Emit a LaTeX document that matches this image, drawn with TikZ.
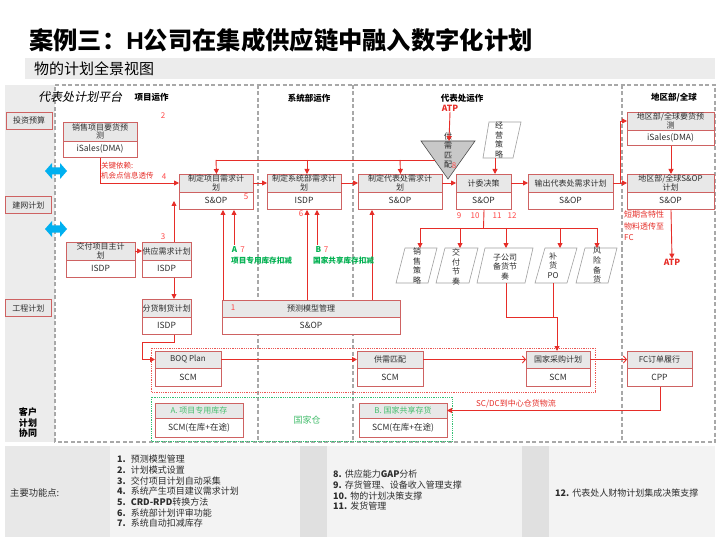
\documentclass[tikz,border=0pt]{standalone}
\usepackage{fontspec}
\setmainfont{Noto Sans CJK SC}
\newfontfamily\cjkit[FakeSlant=0.22]{Noto Sans CJK SC}
\newfontfamily\arialf{Liberation Sans}
\usetikzlibrary{arrows.meta,calc}
\definecolor{bred}{RGB}{206,98,98}
\definecolor{lred}{RGB}{230,45,40}
\definecolor{nred}{RGB}{255,72,72}
\definecolor{hgray}{RGB}{232,232,232}
\definecolor{dgray}{RGB}{168,168,168}
\definecolor{gr}{RGB}{0,176,80}
\definecolor{lgr}{RGB}{70,190,110}
\definecolor{cy}{RGB}{0,176,240}
\definecolor{colgray}{RGB}{236,236,236}
\definecolor{pangray}{RGB}{243,243,243}
\definecolor{labgray}{RGB}{232,232,232}
\definecolor{stripgray}{RGB}{224,224,224}
\definecolor{txt}{RGB}{45,45,45}
\definecolor{trig}{RGB}{200,200,200}
\newcommand\tbox[9]{%
  \fill[white] (#2,#3) rectangle (#4,#6);
  \fill[hgray] (#2,#3) rectangle (#4,#5);
  \draw[bred,line width=0.7pt] (#2,#5) -- (#4,#5);
  \node[draw=bred,line width=1pt,inner sep=0pt,minimum width={#4-#2},minimum height={#6-#3},anchor=north west] (#1) at (#2,#3) {};
  \coordinate (#1-hw) at (#2,{(#3+#5)/2});
  \coordinate (#1-he) at (#4,{(#3+#5)/2});
  \node[hdr,text=#9] at ({(#2+#4)/2},{(#3+#5)/2}) {#7};
  \node[bdy] at ({(#2+#4)/2},{(#5+#6)/2}) {#8};
}
\begin{document}
\begin{tikzpicture}[x=1pt,y=-1pt,
  hdr/.style={inner sep=0pt,align=center,font=\fontsize{8}{8.8}\selectfont},
  bdy/.style={inner sep=0pt,align=center,font=\fontsize{8.5}{9}\selectfont,text=txt},
  dsh/.style={draw=dgray,line width=1.2pt,dash pattern=on 4pt off 2.5pt},
  ln/.style={draw=lred,line width=0.9pt},
  arr/.style={draw=lred,line width=0.9pt,-{Triangle[length=5pt,width=5pt]}},
  oarr/.style={draw=lred,line width=0.9pt,-{Straight Barb[length=3pt,width=7pt]}},
  num/.style={inner sep=0pt,text=nred,font=\fontsize{8}{9}\selectfont},
  lbl/.style={draw=bred,line width=0.8pt,fill=hgray,minimum width=46,minimum height=17,inner sep=0pt,font=\fontsize{8}{9}\selectfont,text=txt},
  pgr/.style={draw=gray!75,line width=0.6pt,fill=white},
  vt/.style={inner sep=0pt,align=center,font=\fontsize{8}{9.6}\selectfont,text=txt},
  sec/.style={inner sep=0pt,font=\fontsize{8.5}{9}\selectfont\bfseries}]
\useasboundingbox (0,0) rectangle (720,540);
\fill[white] (0,0) rectangle (720,540);

% title
\node[anchor=west,inner sep=0pt,font=\fontsize{24.3}{26}\selectfont\bfseries] (title) at (29,40) {案例三：{\arialf\bfseries H}公司在集成供应链中融入数字化计划};
\fill[colgray] (25,58) rectangle (715,79);
\node[anchor=west,inner sep=0pt,font=\fontsize{15}{16}\selectfont] (sub) at (34,68.5) {物的计划全景视图};

% left column and frame
\fill[colgray] (5,85) rectangle (55,442);
\draw[dsh] (55,85) -- (715,85) -- (715,442) -- (55,442) -- cycle;
\draw[dsh] (258,85) -- (258,442);
\draw[dsh] (353,85) -- (353,442);
\draw[dsh] (622,85) -- (622,442);

\node[lbl] (inv) at (29,120.5) {投资预算};
\node[lbl] (net) at (28.5,205) {建网计划};
\node[lbl] (eng) at (28.5,308) {工程计划};
\node[inner sep=0pt,align=center,font=\fontsize{9}{10.5}\selectfont\bfseries] (cust) at (28,423) {客户\\计划\\协同};

% cyan double arrows
\fill[cy] (45,171) -- (52,163) -- (52,167.5) -- (60,167.5) -- (60,163) -- (67,171) -- (60,179) -- (60,174.5) -- (52,174.5) -- (52,179) -- cycle;
\fill[cy] (45,229) -- (52,221) -- (52,225.5) -- (60,225.5) -- (60,221) -- (67,229) -- (60,237) -- (60,232.5) -- (52,232.5) -- (52,237) -- cycle;

% section headers
\node[inner sep=0pt,font=\cjkit\fontsize{12}{12}\selectfont] (plat) at (80,97) {代表处计划平台};
\node[sec] (h1) at (151.5,97.5) {项目运作};
\node[sec] (h2) at (309,98) {系统部运作};
\node[sec] (h3) at (462,98) {代表处运作};
\node[sec] (h4) at (674,98) {地区部/全球};
\node[sec,text=lred] (atp1) at (450,108.5) {ATP};

% dotted group boxes
\draw[lred!80,line width=0.8pt,densely dotted] (151,348) rectangle (595,392);
\draw[gr!80,line width=0.8pt,densely dotted] (151,397) rectangle (452,441.5);
\node[inner sep=0pt,text=lgr,font=\fontsize{9}{10}\selectfont] (gjc) at (307,420) {国家仓};

% boxes
\tbox{sales}{63}{122}{137}{141}{157}{销售项目要货预\\测}{iSales(DMA)}{txt}
\tbox{pj}{179}{174}{253}{192}{209}{制定项目需求计\\划}{S\&OP}{txt}
\tbox{sys}{267}{174}{341}{192}{209}{制定系统部需求计\\划}{ISDP}{txt}
\tbox{rep}{358}{174}{442}{192}{209}{制定代表处需求计\\划}{S\&OP}{txt}
\tbox{jw}{456}{174}{511}{192}{209}{计委决策}{S\&OP}{txt}
\tbox{out}{528}{174}{613}{192}{209}{输出代表处需求计划}{S\&OP}{txt}
\tbox{rf}{627}{112}{714}{130}{145}{地区部/全球要货预\\测}{iSales(DMA)}{txt}
\tbox{rs}{627}{174}{714}{192}{209}{地区部/全球S\&OP\\计划}{S\&OP}{txt}
\tbox{jf}{66}{242}{135}{260}{277}{交付项目主计\\划}{ISDP}{txt}
\tbox{gx}{142}{242}{191}{260}{277}{供应需求计划}{ISDP}{txt}
\tbox{fh}{142}{299}{191}{317}{334}{分货制货计划}{ISDP}{txt}
\tbox{yc}{222}{300}{400}{317}{334}{预测模型管理}{S\&OP}{txt}
\tbox{boq}{155}{351}{221}{368}{386}{BOQ Plan}{SCM}{txt}
\tbox{gp}{357}{351}{423}{368}{386}{供需匹配}{SCM}{txt}
\tbox{cg}{526}{351}{590}{368}{386}{国家采购计划}{SCM}{txt}
\tbox{fc}{627}{351}{692}{368}{386}{FC订单履行}{CPP}{txt}
\tbox{ka}{155}{403}{243}{418}{437}{A. 项目专用库存}{SCM(在库+在途)}{lgr}
\tbox{kb}{359}{403}{447}{418}{437}{B. 国家共享存货}{SCM(在库+在途)}{lgr}

% triangle 供需匹配
\draw[fill=trig,draw=gray!60!black,line width=0.6pt] (421,141) -- (475,141) -- (448,179) -- cycle;
\node[vt,text=gray!30!black] (tri) at (448,150.5) {供\\需\\匹\\配};
\coordinate (triL) at (434.5,160);
\coordinate (triT) at (449,141);

% parallelograms
\draw[pgr] (489,122) -- (521,122) -- (513,158) -- (483,158) -- cycle;
\node[vt] (jy) at (499,140) {经\\营\\策\\略};
\draw[pgr] (405,248) -- (437,248) -- (428,283) -- (396,283) -- cycle;
\node[vt] (p1) at (417,266) {销\\售\\策\\略};
\draw[pgr] (445,248) -- (478,248) -- (469,283) -- (436,283) -- cycle;
\node[vt] (p2) at (456,267) {交\\付\\节\\奏};
\draw[pgr] (485,248) -- (533,248) -- (525,283) -- (477,283) -- cycle;
\node[vt] (p3) at (505,267) {子公司\\备货节\\奏};
\draw[pgr] (545,248) -- (577,248) -- (567,283) -- (535,283) -- cycle;
\node[vt] (p4) at (553,265.5) {补\\货\\PO};
\draw[pgr] (585,248) -- (617,248) -- (608,283) -- (576,283) -- cycle;
\node[vt] (p5) at (597,265.5) {风\\险\\备\\货};
\coordinate (p1t) at (420,248);
\coordinate (p2t) at (460,248);
\coordinate (p3t) at (506,248);
\coordinate (p4t) at (560,248);
\coordinate (p5t) at (597,248);
\coordinate (p3b) at (506,283);
\coordinate (p4b) at (553,283);
\coordinate (jyb) at (495,158);

% connectors top
\draw[arr] (atp1.south) -- (triT);
\draw[arr] (jyb) -- (jyb |- jw.north);
\draw[ln] (triL) -- (216,160);
\draw[arr] (216,160) -- (pj.north);
\draw[arr] (307,160) -- (307,174);
\draw[arr] (400,160) -- (rep.north);
\draw[arr] (sales.south) |- (pj-hw);
\draw[arr] (pj-he) -- (sys-hw);
\draw[arr] (sys-he) -- (rep-hw);
\draw[arr] (rep-he) -- (jw-hw);
\draw[arr] (jw-he) -- (out-hw);
\draw[arr] (out-he) -- (rs-hw);
\coordinate (brk) at (620,183);
\draw[arr] (brk) |- (rf-hw);
\draw[arr] (rf.south) -- (rs.north);
\node[sec,text=lred] (atp2) at (672,262) {ATP};
\draw[arr] (rs.south) -- (atp2.north);
\node[anchor=north west,inner sep=0pt,align=left,text=lred,font=\fontsize{8}{11.5}\selectfont] (dq) at (624,211) {短期含特性\\物料透传至\\FC};

% decision split
\coordinate (spl) at (483.5,228);
\draw[ln] (jw.south) -- (spl);
\draw[ln] (420,228) -- (597,228);
\draw[arr] (420,228) -- (p1t);
\draw[arr] (460,228) -- (p2t);
\draw[arr] (506,228) -- (p3t);
\draw[arr] (560,228) -- (p4t);
\draw[arr] (597,228) -- (p5t);
\coordinate (cgin) at (557,317);
\draw[ln] (p3b) |- (cgin);
\draw[ln] (p4b) -- (p4b |- cgin);
\draw[arr] (cgin) -- (cgin |- cg.north);

% left connectors
\coordinate (c1) at (223,300);
\draw[arr] (c1) -- (c1 |- pj.south);
\coordinate (c2) at (234,245);
\draw[arr] (c2) -- (c2 |- pj.south);
\coordinate (c3) at (307,300);
\draw[arr] (c3) -- (c3 |- sys.south);
\coordinate (c4) at (317,245);
\draw[arr] (c4) -- (c4 |- sys.south);
\coordinate (c5) at (372,300);
\draw[arr] (c5) -- (c5 |- rep.south);
\coordinate (c6) at (174,201);
\draw[arr] (c6 |- gx.north) -- (c6);
\draw[arr] (jf-he) -- (gx-hw);
\draw[arr] (c6 |- gx.south) -- (c6 |- fh.north);
\coordinate (c8) at (142,342);
\draw[arr] (c6 |- fh.south) |- (c8) |- (boq-hw);
\draw[arr] (boq-he) -- (gp-hw);
\draw[oarr] (gp-he) -- (cg-hw);
\draw[oarr] (cg-he) -- (fc-hw);
\draw[arr] (fc.south) |- (kb-he);
\node[inner sep=0pt,text=lred,font=\fontsize{8}{9}\selectfont] (scdc) at (516,404) {SC/DC到中心仓货物流};

% labels
\node[anchor=west,inner sep=0pt,align=left,text=lred,font=\fontsize{7.5}{10}\selectfont] (gjyl) at (101,171) {关键依赖:\\机会点信息透传};
\node[num] (n2) at (163,116) {2};
\node[num] (n4) at (164,177) {4};
\node[num] (n5) at (246,197) {5};
\node[num] (n3) at (163,237) {3};
\node[num] (n6) at (301,214) {6};
\node[num] (n1) at (233,308) {1};
\node[num] (n8) at (454,166) {8};
\node[num] (n9) at (459,216) {9};
\node[num] (n10) at (475,216) {10};
\node[num] (n11) at (497,216) {11};
\node[num] (n12) at (512,216) {12};
\node[inner sep=0pt,text=gr,font=\fontsize{8}{9}\selectfont\bfseries] (la) at (234.5,250) {A};
\node[num] (n7a) at (242.5,250) {7};
\node[anchor=west,inner sep=0pt,text=gr,font=\fontsize{7.6}{9}\selectfont\bfseries] (lat) at (231,260.5) {项目专用库存扣减};
\node[inner sep=0pt,text=gr,font=\fontsize{8}{9}\selectfont\bfseries] (lb) at (318.5,250) {B};
\node[num] (n7b) at (326,250) {7};
\node[anchor=west,inner sep=0pt,text=gr,font=\fontsize{7.6}{9}\selectfont\bfseries] (lbt) at (313,260.5) {国家共享库存扣减};

% bottom panel
\fill[labgray] (5,446) rectangle (110,537);
\fill[pangray] (110,446) rectangle (300,537);
\fill[stripgray] (300,446) rectangle (327,537);
\fill[pangray] (327,446) rectangle (522,537);
\fill[stripgray] (522,446) rectangle (549,537);
\fill[pangray] (549,446) rectangle (715,537);
\node[anchor=west,inner sep=0pt,text=txt,font=\fontsize{9.3}{10}\selectfont] (kf) at (10,493) {主要功能点:};
\node[anchor=north west,inner sep=0pt,align=left,text=txt,font=\fontsize{9}{10.7}\selectfont] (list1) at (117,455) {%
\textbf{1.}\hspace{5pt}预测模型管理\\
\textbf{2.}\hspace{5pt}计划模式设置\\
\textbf{3.}\hspace{5pt}交付项目计划自动采集\\
\textbf{4.}\hspace{5pt}系统产生项目建议需求计划\\
\textbf{5.}\hspace{5pt}\textbf{CRD-RPD}转换方法\\
\textbf{6.}\hspace{5pt}系统部计划评审功能\\
\textbf{7.}\hspace{5pt}系统自动扣减库存};
\node[anchor=north west,inner sep=0pt,align=left,text=txt,font=\fontsize{9}{10.7}\selectfont] (list2) at (333,470) {%
\textbf{8.}\hspace{3pt}供应能力\textbf{GAP}分析\\
\textbf{9.}\hspace{3pt}存货管理、设备收入管理支撑\\
\textbf{10.}\hspace{3pt}物的计划决策支撑\\
\textbf{11.}\hspace{3pt}发货管理};
\node[anchor=west,inner sep=0pt,text=txt,font=\fontsize{9}{10}\selectfont] (l12) at (555,493) {\textbf{12.}\hspace{3pt}代表处人财物计划集成决策支撑};
\end{tikzpicture}
\end{document}
